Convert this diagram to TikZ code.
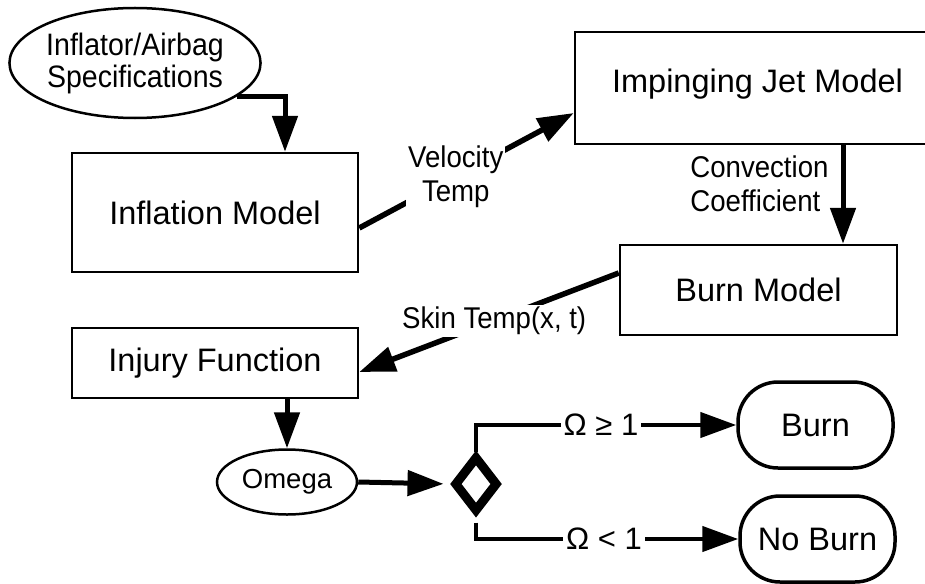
\documentclass[tikz,border=0pt]{standalone}
\usepackage{fontspec}
\setmainfont{Liberation Sans}
\newfontfamily\labfont[FakeStretch=0.92]{Liberation Sans}
\usetikzlibrary{shapes.geometric,arrows.meta,calc}
\begin{document}
\begin{tikzpicture}[x=1pt,y=-1pt,
  box/.style={draw, line width=2.5pt, inner sep=0pt, font=\fontsize{32.5}{34}\selectfont},
  oval/.style={draw, ellipse, line width=2.5pt, inner sep=0pt},
  term/.style={draw, line width=3.5pt, rounded corners=40pt, inner sep=0pt, minimum width=155pt, minimum height=86pt, font=\fontsize{32.5}{34}\selectfont},
  lab/.style={font=\labfont\fontsize{30}{34}\selectfont, align=center, inner sep=2pt},
  omlab/.style={font=\fontsize{31}{32}\selectfont, fill=white, inner sep=3pt},
  arr/.style={line width=5pt, -{Triangle[length=36pt,width=25pt]}},
  brarr/.style={line width=4.5pt, -{Triangle[length=36pt,width=25pt]}},
]
\useasboundingbox (0,0) rectangle (925,583);
% nodes
\node[oval, minimum width=244pt, minimum height=110pt, align=center, font=\labfont\fontsize{31}{32}\selectfont] (spec) at (135,63) {Inflator/Airbag\\Specifications};
\node[box, minimum width=286pt, minimum height=119pt] (infl) at (215,212.5) {Inflation Model};
\node[box, minimum width=365pt, minimum height=112pt, text depth=14pt] (jet) at (757.5,88) {Impinging Jet Model};
\node[box, minimum width=277pt, minimum height=90pt] (burnm) at (758.5,290) {Burn Model};
\node[box, minimum width=286pt, minimum height=70pt] (inj) at (215,363) {Injury Function};
\node[oval, minimum width=140pt, minimum height=65pt, font=\fontsize{27.5}{29}\selectfont] (omega) at (287,482) {Omega};
\node[diamond, draw, line width=9pt, inner sep=0pt, minimum width=44pt, minimum height=56pt] (dec) at (476,484) {};
\node[term] (burn) at (815.5,425) {Burn};
\node[term] (noburn) at (817.5,539) {No Burn};
\coordinate (cx) at (843,0);
% connectors
\draw[arr] (spec.-18) -| ([xshift=70pt]infl.north);
\draw[arr, line width=5.5pt] ([yshift=-15.5pt]infl.east) -- node[lab, fill=white, pos=0.45] {Velocity\\Temp} ([yshift=-25pt]jet.west);
\draw[arr] (jet.south -| cx) -- node[lab, align=left, anchor=east, xshift=-10pt, pos=0.39] {Convection\\Coefficient} (burnm.north -| cx);
\draw[arr, line width=5.5pt] ([yshift=17pt]burnm.west) -- node[lab, fill=white, pos=0.48] {Skin Temp(x, t)} ([yshift=-9pt]inj.east);
\draw[arr] (omega.north |- inj.south) -- (omega.north);
\draw[arr, shorten >=6pt] (omega.east) -- (dec.west);
\draw[brarr] (dec.north) |- node[omlab, pos=0.74] {Ω ≥ 1} (burn.west);
\draw[brarr, shorten <=6pt] (dec.south) |- node[omlab, pos=0.744] {Ω < 1} (noburn.west);
\end{tikzpicture}
\end{document}
